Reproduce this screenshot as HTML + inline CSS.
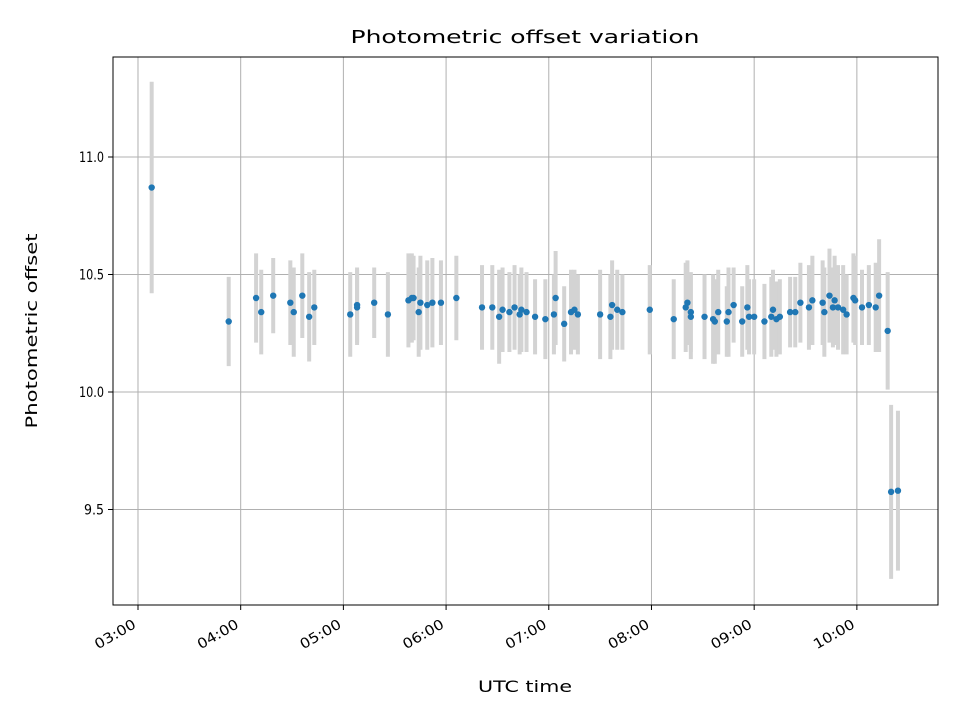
<!DOCTYPE html>
<html><head><meta charset="utf-8"><style>
html,body{margin:0;padding:0;background:#fff;}
svg text{font-family:"DejaVu Sans","Liberation Sans",sans-serif;fill:#000;}
</style></head><body>
<svg id="chart" width="960" height="720" viewBox="0 0 960 720" xmlns="http://www.w3.org/2000/svg">
<rect x="0" y="0" width="960" height="720" fill="#fff"/>
<text x="525" y="43" text-anchor="middle" font-size="18" textLength="349" lengthAdjust="spacingAndGlyphs">Photometric offset variation</text>
<text x="525" y="692" text-anchor="middle" font-size="16" textLength="94" lengthAdjust="spacingAndGlyphs">UTC time</text>
<text transform="translate(37,331) rotate(-90)" text-anchor="middle" font-size="16" textLength="195" lengthAdjust="spacingAndGlyphs">Photometric offset</text>
<g id="grid"></g>
<g id="bars"></g>
<g id="pts"></g>
<g id="ticks"></g>
<rect x="113" y="57" width="825" height="548" fill="none" stroke="#000" stroke-width="1"/>
</svg>
<script>
const times = ["03:08","03:53","04:09","04:12","04:19","04:29","04:31","04:36","04:40","04:43","05:04","05:08","05:08","05:18","05:26","05:38","05:40","05:41","05:44","05:45","05:49","05:52","05:57","06:06","06:21","06:27","06:31","06:33","06:37","06:40","06:43","06:44","06:47","06:52","06:58","07:03","07:04","07:09","07:13","07:15","07:17","07:30","07:36","07:37","07:40","07:43","07:59","08:13","08:20","08:21","08:23","08:23","08:31","08:36","08:37","08:39","08:44","08:45","08:48","08:53","08:56","08:57","09:00","09:06","09:10","09:11","09:13","09:15","09:21","09:24","09:27","09:32","09:34","09:40","09:41","09:44","09:46","09:47","09:49","09:52","09:54","09:58","09:59","10:03","10:07","10:11","10:13","10:18","10:20","10:24"];
const offsets = [10.87,10.30,10.40,10.34,10.41,10.38,10.34,10.41,10.32,10.36,10.33,10.37,10.36,10.38,10.33,10.39,10.40,10.40,10.34,10.38,10.37,10.38,10.38,10.40,10.36,10.36,10.32,10.35,10.34,10.36,10.33,10.35,10.34,10.32,10.31,10.33,10.40,10.29,10.34,10.35,10.33,10.33,10.32,10.37,10.35,10.34,10.35,10.31,10.36,10.38,10.34,10.32,10.32,10.31,10.30,10.34,10.30,10.34,10.37,10.30,10.36,10.32,10.32,10.30,10.32,10.35,10.31,10.32,10.34,10.34,10.38,10.36,10.39,10.38,10.34,10.41,10.36,10.39,10.36,10.35,10.33,10.40,10.39,10.36,10.37,10.36,10.41,10.26,9.575,9.58];
const errors = [0.45,0.19,0.19,0.18,0.16,0.18,0.19,0.18,0.19,0.16,0.18,0.16,0.16,0.15,0.18,0.20,0.19,0.18,0.19,0.20,0.19,0.19,0.18,0.18,0.18,0.18,0.20,0.18,0.17,0.18,0.17,0.18,0.17,0.16,0.17,0.17,0.20,0.16,0.18,0.17,0.17,0.19,0.18,0.19,0.17,0.16,0.19,0.17,0.19,0.18,0.17,0.18,0.18,0.19,0.18,0.18,0.15,0.19,0.16,0.15,0.18,0.16,0.16,0.16,0.17,0.17,0.16,0.16,0.15,0.15,0.17,0.18,0.19,0.18,0.19,0.20,0.17,0.19,0.18,0.19,0.17,0.19,0.19,0.16,0.17,0.19,0.24,0.25,0.37,0.34];
const xTickLabels = ["03:00","04:00","05:00","06:00","07:00","08:00","09:00","10:00"];
const yTickValues = [9.5,10.0,10.5,11.0];

const NS="http://www.w3.org/2000/svg";
const L=113,R=938,T=57,B=605;
const xMin=-14.6,xMax=467.4,yMin=9.0936,yMax=11.4255;
function toMin(s){const p=s.split(":");return (+p[0]-3)*60+(+p[1]);}
function xs(m){return L+(m-xMin)/(xMax-xMin)*(R-L);}
function ys(v){return B-(v-yMin)/(yMax-yMin)*(B-T);}
function mk(tag,attrs,parent){const e=document.createElementNS(NS,tag);for(const k in attrs)e.setAttribute(k,attrs[k]);parent.appendChild(e);return e;}
const grid=document.getElementById('grid'),ticks=document.getElementById('ticks'),bars=document.getElementById('bars'),pts=document.getElementById('pts');
xTickLabels.forEach(lab=>{
  const x=xs(toMin(lab));
  const g=mk('line',{x1:x,x2:x,y1:T,y2:B,stroke:'#b0b0b0','stroke-width':1},grid);
  
  
  const t=mk('line',{x1:x,x2:x,y1:B,y2:B+5,stroke:'#000','stroke-width':1},ticks);
  
  
  const tx=mk('text',{transform:`translate(${x-1},${B+22}) rotate(-30)`,'text-anchor':'end','font-size':14,textLength:45,lengthAdjust:'spacingAndGlyphs'},ticks);
  tx.textContent=lab;
  
  
});
yTickValues.forEach(v=>{
  const y=ys(v);
  const g=mk('line',{x1:L,x2:R,y1:y,y2:y,stroke:'#b0b0b0','stroke-width':1},grid);
  
  
  const t=mk('line',{x1:L-5,x2:L,y1:y,y2:y,stroke:'#000','stroke-width':1},ticks);
  
  
  const tx=mk('text',{x:L-9,y:y+5,'text-anchor':'end','font-size':14,textLength:v>=10?25:20,lengthAdjust:'spacingAndGlyphs'},ticks);
  tx.textContent=v.toFixed(1);
  
  
});
times.forEach((s,i)=>{
  const x=xs(toMin(s));
  const b=mk('line',{x1:x,x2:x,y1:ys(offsets[i]+errors[i]),y2:ys(offsets[i]-errors[i]),stroke:'#d3d3d3','stroke-width':4},bars);
  
  
});
times.forEach((s,i)=>{
  const c=mk('circle',{cx:xs(toMin(s)),cy:ys(offsets[i]),r:3.2,fill:'#1f77b4'},pts);
  
  
});
</script>
</body></html>
